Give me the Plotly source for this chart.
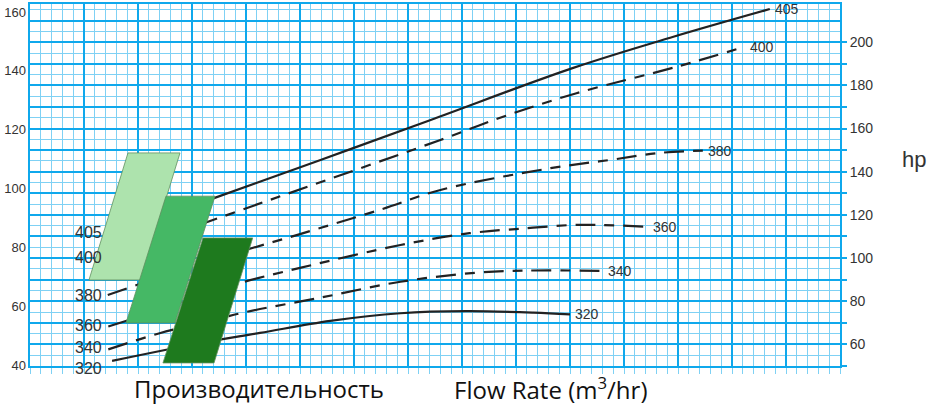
import plotly.graph_objects as go

# ---------------- data (x in grid cells, y on left axis scale) ----------------
x_405 = [7.2, 17.1, 26.9, 37.1, 50.3, 59.5, 68.5]
y_405 = [83.9, 96.8, 109.7, 123.3, 141.0, 151.5, 161.0]

x_400 = [7.2, 17.8, 27.8, 38.0, 43.8, 50.6, 59.9, 66.2]
y_400 = [76.4, 90.4, 103.3, 116.5, 124.4, 132.4, 141.4, 148.2]

x_380 = [7.2, 16.9, 25.0, 32.6, 38.0, 48.2, 53.7, 58.3, 62.3]
y_380 = [63.8, 75.7, 84.5, 93.0, 99.5, 106.9, 109.7, 112.1, 112.9]

x_360 = [7.25, 17.0, 19.4, 25.0, 34.3, 40.7, 46.0, 50.3, 52.8, 57.2]
y_360 = [53.1, 64.6, 67.8, 73.0, 80.8, 84.8, 86.5, 87.6, 87.6, 87.0]

x_340 = [7.25, 12.0, 17.0, 20.1, 26.9, 34.3, 41.4, 46.0, 53.1]
y_340 = [45.3, 50.8, 55.3, 58.1, 62.9, 68.3, 71.4, 72.1, 72.0]

x_320 = [7.6, 15.7, 21.3, 27.8, 34.3, 40.4, 46.6, 50.0]
y_320 = [41.4, 47.4, 50.9, 55.0, 57.6, 58.3, 57.8, 57.2]

curve_names = ["405", "400", "380", "360", "340", "320"]

# parallelogram blocks (x cells, left-axis values)
light_x = [9.07, 13.89, 10.28, 5.46, 9.07]
light_y = [112.1, 112.1, 68.9, 68.9, 112.1]
medium_x = [12.59, 17.13, 13.43, 8.89, 12.59]
medium_y = [97.4, 97.4, 54.3, 54.3, 97.4]
dark_x = [16.02, 20.62, 17.04, 12.31, 16.02]
dark_y = [83.2, 83.2, 40.7, 40.7, 83.2]

# left labels of curves (last one sits on the bottom edge)
left_lab_x = [5.4, 5.4, 5.4, 5.4, 5.4, 5.4]
left_lab_y = [84.9, 76.4, 63.5, 53.3, 45.8, 40.0]

# axis ticks
left_ticks = [40, 60, 80, 100, 120, 140, 160]
right_tickvals = [50, 60, 70, 80, 90, 100, 110, 120, 130, 140, 150, 160, 170, 180, 190, 200]
right_ticktext = ["" if v % 20 else str(v) for v in right_tickvals]
right_ticktext[0] = ""

MAJ = "#0fa8ec"
MIN = "#7fd1f4"
LINE = "#222222"
TXT = "#333333"
DASH = "20px,9px,10px,9px"
FONT = "Liberation Sans, Arial"

fig = go.Figure()
fig.add_trace(go.Scatter(x=[None], y=[None], yaxis="y", showlegend=False, hoverinfo="skip"))
fig.add_trace(go.Scatter(x=[None], y=[None], yaxis="y2", showlegend=False, hoverinfo="skip"))

curves = [
    (x_405, y_405, "solid"),
    (x_400, y_400, DASH),
    (x_380, y_380, DASH),
    (x_360, y_360, DASH),
    (x_340, y_340, DASH),
    (x_320, y_320, "solid"),
]
for (xs, ys, d), name in zip(curves, curve_names):
    fig.add_trace(go.Scatter(x=xs, y=ys, mode="lines", yaxis="y3", name=name,
                             line=dict(color=LINE, width=2.2, dash=d, shape="spline"),
                             showlegend=False, hoverinfo="skip"))

for xs, ys, col in [(light_x, light_y, "#ade3ad"), (medium_x, medium_y, "#45b865"),
                    (dark_x, dark_y, "#1e7a1e")]:
    fig.add_trace(go.Scatter(x=xs, y=ys, mode="lines", fill="toself", fillcolor=col,
                             line=dict(color="#5f8f5f", width=0.8), yaxis="y3",
                             showlegend=False, hoverinfo="skip"))

annotations = []
for (xs, ys, d), name in zip(curves, curve_names):
    annotations.append(dict(text=name, x=xs[-1], y=ys[-1], xref="x", yref="y3",
                            xanchor="left", yanchor="middle", xshift=3, showarrow=False,
                            font=dict(family=FONT, size=14, color=TXT)))
for i, (lx, ly, name) in enumerate(zip(left_lab_x, left_lab_y, curve_names)):
    annotations.append(dict(text=name, x=lx, y=ly, xref="x", yref="y3",
                            xanchor="center", yanchor="middle", showarrow=False,
                            yshift=-3 if i == len(curve_names) - 1 else 0,
                            font=dict(family=FONT, size=16, color=TXT)))
annotations += [
    dict(text="hp", xref="paper", yref="paper", x=(914 - 30) / 810, y=(366 - 159) / 362,
         xanchor="center", yanchor="middle",
         showarrow=False, font=dict(family=FONT, size=22, color=TXT)),
    dict(text="Производительность", xref="paper", yref="paper", x=(259 - 30) / 810,
         y=(366 - 388) / 362, xanchor="center", yanchor="middle", showarrow=False,
         font=dict(family="Open Sans", size=24, color="#111111")),
    dict(text="Flow Rate (m<sup>3</sup>/hr)", xref="paper", yref="paper", x=(550 - 30) / 810,
         y=(366 - 388) / 362, xanchor="center", yanchor="middle", showarrow=False,
         font=dict(family="Open Sans", size=24, color="#111111")),
]

fig.update_layout(
    width=929, height=407,
    margin=dict(l=30, r=89, t=4, b=41, autoexpand=False),
    paper_bgcolor="white", plot_bgcolor="white",
    xaxis=dict(range=[0, 75], showgrid=True, gridcolor=MAJ, gridwidth=2, dtick=5, tick0=0,
               showticklabels=False, ticks="outside", ticklen=6, tickcolor=MIN, tickwidth=1,
               minor=dict(dtick=1, showgrid=True, gridcolor=MIN, gridwidth=1,
                          ticks="outside", ticklen=6, tickcolor=MIN),
               showline=True, linecolor=MAJ, linewidth=2, mirror=True, zeroline=False,
               automargin=False),
    yaxis=dict(range=[50, 217.7], side="right", showgrid=True, gridcolor=MAJ, gridwidth=2,
               dtick=10, tick0=0, showticklabels=False, ticks="",
               minor=dict(dtick=5, showgrid=True, gridcolor=MIN, gridwidth=1),
               showline=True, linecolor=MAJ, linewidth=2, mirror=True, zeroline=False,
               automargin=False),
    yaxis2=dict(range=[50, 217.7], side="right", overlaying="y", showgrid=False,
                tickvals=right_tickvals, ticktext=right_ticktext, ticks="outside",
                ticklen=6, tickcolor=MAJ, tickwidth=1.5,
                tickfont=dict(family=FONT, size=14, color=TXT),
                zeroline=False, showline=False, automargin=False),
    yaxis3=dict(range=[39.66, 162.72], side="left", overlaying="y", showgrid=False,
                tickvals=left_ticks, ticks="", ticklabelstandoff=3,
                tickfont=dict(family=FONT, size=13, color=TXT),
                zeroline=False, showline=False, automargin=False),
    annotations=annotations,
)

fig.write_html("out.html", config={"displayModeBar": False},
               post_script="document.body.style.margin='0';document.body.style.padding='0';")
